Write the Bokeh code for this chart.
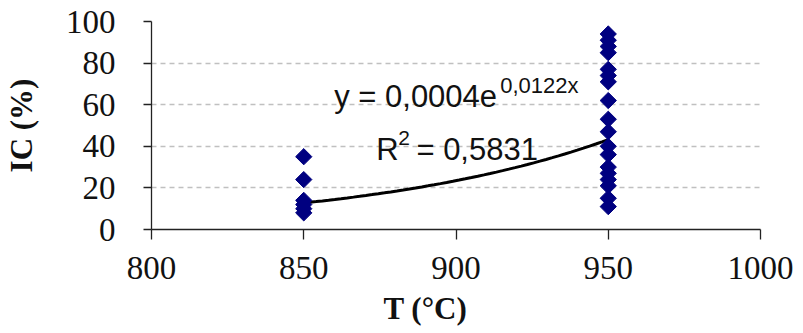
import math
import numpy as np
from bokeh.plotting import figure
from bokeh.models import Range1d, FixedTicker, Label, Title, ColumnDataSource
from bokeh.embed import file_html
from bokeh.resources import INLINE

# Measurements: temperature (°C) and IC (%)
temp_850 = [850, 850, 850, 850, 850, 850]
ic_850 = [35, 24, 14, 12, 10, 8]
temp_950 = [950] * 18
ic_950 = [94, 91, 88, 85, 77, 74, 71, 62, 53, 47, 40, 36, 30, 27, 24, 21, 15, 11]

# Exponential trend y = a * exp(b * x)
trend_a = 0.0004
trend_b = 0.0122
r_squared = "0,5831"

x_ticks = [800, 850, 900, 950, 1000]
y_ticks = [0, 20, 40, 60, 80, 100]

SERIF = "Liberation Serif"
SANS = "Liberation Sans"
NAVY = "#000080"
INK = "#111111"

p = figure(width=803, height=333, output_backend="svg", toolbar_location=None,
           x_range=Range1d(800, 1000), y_range=Range1d(0, 100),
           min_border_left=150, min_border_right=43,
           min_border_top=21, min_border_bottom=103)
p.outline_line_color = None
p.background_fill_color = "white"
p.border_fill_color = "white"

# Grid: dashed horizontal lines only
p.xgrid.grid_line_color = None
p.ygrid.grid_line_color = "#c0c0c0"
p.ygrid.grid_line_width = 1.5
p.ygrid.grid_line_dash = "5 4"
p.ygrid.ticker = FixedTicker(ticks=y_ticks)

for ax in (p.xaxis[0], p.yaxis[0]):
    ax.axis_line_color = "#222222"
    ax.axis_line_width = 1.3
    ax.major_tick_line_color = "#222222"
    ax.major_tick_line_width = 1.3
    ax.major_tick_in = 0
    ax.minor_tick_line_color = None
    ax.major_label_text_font = SERIF
    ax.major_label_text_font_size = "33px"
    ax.major_label_text_color = INK

p.xaxis.ticker = FixedTicker(ticks=x_ticks)
p.xaxis.major_tick_out = 10
p.xaxis.major_label_standoff = 17
p.yaxis.ticker = FixedTicker(ticks=y_ticks)
p.yaxis.major_tick_out = 8
p.yaxis.major_label_standoff = 28

# Axis titles
p.yaxis.axis_label = "IC (%)"
p.yaxis.axis_label_text_font = SERIF
p.yaxis.axis_label_text_font_size = "31px"
p.yaxis.axis_label_text_font_style = "bold"
p.yaxis.axis_label_text_color = INK
p.yaxis.axis_label_standoff = 24

p.add_layout(Title(text="T (°C)", text_font=SERIF, text_font_size="31px",
                   text_font_style="bold", text_color=INK, align="left",
                   offset=232, standoff=15), "below")

# Trend line over the measured temperature span
tx = np.linspace(850, 950, 50)
ty = trend_a * np.exp(trend_b * tx)
p.line(tx, ty, line_color="black", line_width=3)

# Data points (diamonds)
src = ColumnDataSource(dict(t=temp_850 + temp_950, ic=ic_850 + ic_950))
p.scatter("t", "ic", source=src, marker="square", angle=math.pi / 4,
          size=11.5, fill_color=NAVY, line_color=NAVY)

# Trend equation and R²
def add_text(x, y, txt, size):
    p.add_layout(Label(x=x, y=y, text=txt, text_font=SANS,
                       text_font_size=size, text_align="left",
                       text_baseline="alphabetic", text_color=INK))

add_text(860, 63.8, "y = 0,0004e", "31px")
add_text(914.5, 69.4, "0,0122x", "22px")
add_text(873.8, 38.3, "R", "31px")
add_text(881.0, 44.0, "2", "21px")
add_text(887.0, 38.3, "= " + r_squared, "31px")

open("out.html", "w").write(file_html(p, INLINE))
